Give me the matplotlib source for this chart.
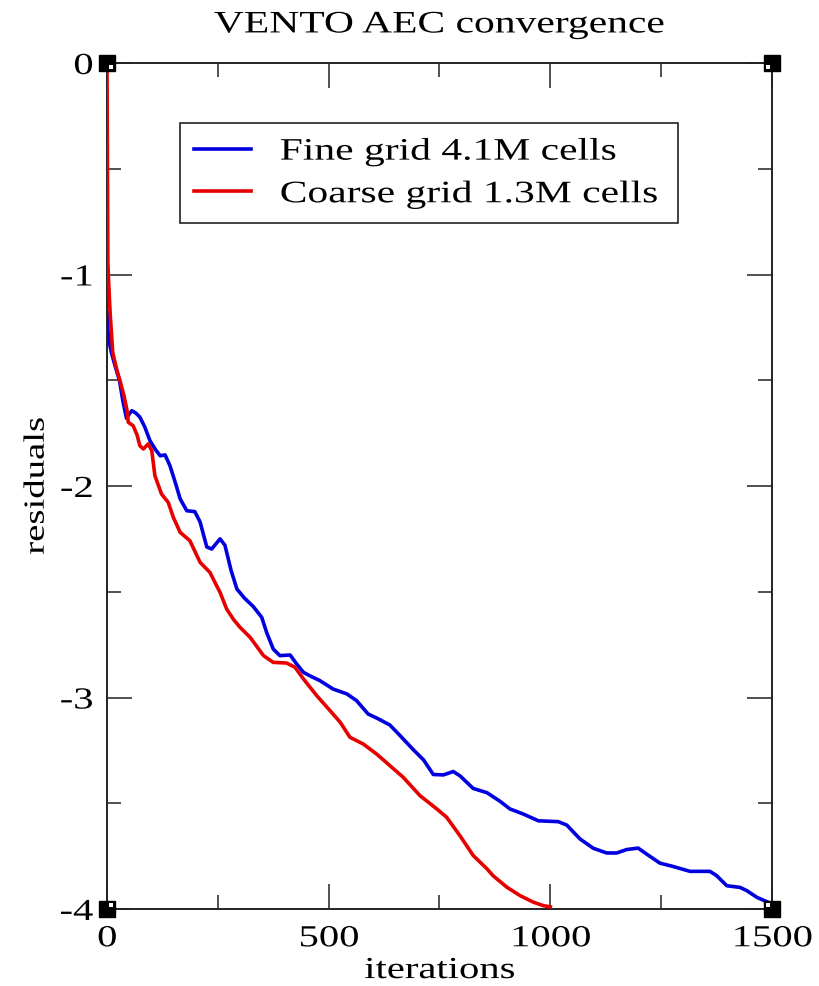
"""Redraw the VENTO AEC residual convergence plot (xmgrace look)."""

from __future__ import annotations

import matplotlib

matplotlib.use("Agg")
import matplotlib.pyplot as plt
from matplotlib import patheffects
from matplotlib.ticker import MultipleLocator
from matplotlib.transforms import Affine2D, offset_copy

TITLE = "VENTO AEC convergence"
X_LABEL = "iterations"
Y_LABEL = "residuals"

FINE_LABEL = "Fine grid 4.1M cells"
FINE_ITER = [0, 2, 5, 10, 18, 28, 36, 44, 50, 56, 65, 74, 85, 97, 110, 120,
             131, 142, 155, 165, 180, 198, 210, 225, 236, 255, 266, 280, 293,
             310, 330, 349, 360, 375, 390, 413, 428, 443, 460, 480, 510, 541,
             563, 589, 612, 638, 661, 691, 714, 736, 759, 781, 796, 826, 857,
             886, 909, 939, 973, 1018, 1037, 1067, 1097, 1127, 1150, 1172,
             1198, 1217, 1247, 1277, 1315, 1360, 1375, 1398, 1428, 1443, 1466,
             1492, 1500]
FINE_RES = [-1.18, -1.26, -1.32, -1.37, -1.43, -1.50, -1.60, -1.68, -1.66,
            -1.644, -1.655, -1.674, -1.72, -1.786, -1.83, -1.857, -1.853,
            -1.904, -1.99, -2.061, -2.117, -2.121, -2.17, -2.288, -2.298,
            -2.25, -2.28, -2.40, -2.487, -2.53, -2.57, -2.621, -2.692, -2.771,
            -2.802, -2.799, -2.842, -2.881, -2.90, -2.92, -2.96, -2.983,
            -3.015, -3.078, -3.101, -3.13, -3.18, -3.247, -3.295, -3.364,
            -3.366, -3.35, -3.37, -3.43, -3.45, -3.49, -3.527, -3.551, -3.583,
            -3.587, -3.603, -3.669, -3.713, -3.735, -3.735, -3.719, -3.712,
            -3.740, -3.783, -3.799, -3.822, -3.822, -3.842, -3.890, -3.898,
            -3.913, -3.945, -3.969, -3.985]

COARSE_LABEL = "Coarse grid 1.3M cells"
COARSE_ITER = [0, 1, 2, 4, 7, 13, 22, 29, 38, 45, 48, 59, 68, 74, 82, 93, 101,
               108, 123, 138, 150, 165, 187, 210, 232, 255, 270, 285, 300, 323,
               353, 375, 405, 424, 443, 473, 503, 526, 548, 578, 608, 638, 668,
               706, 744, 766, 796, 826, 857, 871, 902, 932, 962, 984, 1000]
COARSE_RES = [0.0, -0.5, -0.95, -1.05, -1.18, -1.37, -1.45, -1.50, -1.57,
              -1.64, -1.699, -1.715, -1.76, -1.809, -1.825, -1.801, -1.833,
              -1.951, -2.038, -2.077, -2.15, -2.219, -2.259, -2.361, -2.408,
              -2.503, -2.582, -2.63, -2.668, -2.716, -2.802, -2.834, -2.837,
              -2.857, -2.912, -2.991, -3.062, -3.117, -3.188, -3.220, -3.267,
              -3.322, -3.377, -3.464, -3.527, -3.566, -3.653, -3.747, -3.810,
              -3.843, -3.897, -3.937, -3.968, -3.984, -3.99]

X_RANGE = (0, 1500)
Y_RANGE = (-4, 0)

# the original's Times glyphs come out noticeably wider than Liberation Serif
TEXT_STRETCH = 1.33


class _Stretch(patheffects.AbstractPathEffect):
    """Widen glyphs along the text direction, pinned at one end or the middle."""

    def __init__(self, sx, anchor="center"):
        super().__init__()
        self._sx = sx
        self._anchor = anchor

    def draw_path(self, renderer, gc, tpath, affine, rgbFace=None):
        xs = tpath.vertices[:, 0]
        x0 = 0.0
        if len(xs) and self._anchor == "center":
            x0 = 0.5 * (xs.min() + xs.max())
        elif len(xs) and self._anchor == "right":
            x0 = xs.max()
        pre = Affine2D().translate(-x0, 0).scale(self._sx, 1).translate(x0, 0)
        renderer.draw_path(gc, tpath, pre + affine, rgbFace)


def _stretch(text, anchor="center"):
    text.set_path_effects([_Stretch(TEXT_STRETCH, anchor)])


def _corner_boxes(fig, ax):
    # grace leaves little black squares on the frame corners
    for x in X_RANGE:
        for y in Y_RANGE:
            ax.plot([x], [y], marker="s", markersize=11, color="black",
                    clip_on=False, zorder=6)
            dx = 3 if x == X_RANGE[0] else -3
            dy = -3 if y == Y_RANGE[1] else 3
            tr = offset_copy(ax.transData, fig=fig, x=dx, y=dy, units="points")
            ax.plot([x], [y], marker="s", markersize=3.5, color="white",
                    markeredgewidth=0, clip_on=False, zorder=7, transform=tr)


def main():
    plt.rcParams["font.family"] = ["Liberation Serif", "DejaVu Serif"]
    plt.rcParams["axes.unicode_minus"] = False

    fig = plt.figure(figsize=(8.2, 9.87), dpi=100)
    ax = fig.add_axes([107 / 820, 1 - 910 / 987, 665 / 820, 846 / 987])

    ax.plot(FINE_ITER, FINE_RES, color="#0000e0", linewidth=2.6,
            label=FINE_LABEL, zorder=3)
    ax.plot(COARSE_ITER, COARSE_RES, color="#e60000", linewidth=2.6,
            label=COARSE_LABEL, zorder=4)

    ax.set_xlim(*X_RANGE)
    ax.set_ylim(*Y_RANGE)
    ax.xaxis.set_major_locator(MultipleLocator(500))
    ax.xaxis.set_minor_locator(MultipleLocator(250))
    ax.yaxis.set_major_locator(MultipleLocator(1))
    ax.yaxis.set_minor_locator(MultipleLocator(0.5))
    ax.tick_params(which="both", direction="in", top=True, right=True,
                   colors="#222222", labelcolor="black", labelsize=22)
    ax.tick_params(which="major", length=18, width=1.1)
    ax.tick_params(axis="x", which="major", pad=11)
    ax.tick_params(axis="y", which="major", pad=10)
    ax.tick_params(which="minor", length=10, width=1.1)
    for spine in ax.spines.values():
        spine.set_linewidth(1.4)
        spine.set_color("#222222")

    for tick in ax.xaxis.get_major_ticks():
        _stretch(tick.label1, "center")
    for tick in ax.yaxis.get_major_ticks():
        _stretch(tick.label1, "right")

    _stretch(ax.set_title(TITLE, fontsize=22.5, pad=22))
    _stretch(ax.set_xlabel(X_LABEL, fontsize=22, labelpad=2))
    _stretch(ax.set_ylabel(Y_LABEL, fontsize=21, labelpad=13))

    leg = ax.legend(loc="upper left", bbox_to_anchor=(0.1098, 0.0, 0.749, 0.929),
                    mode="expand", fontsize=22.5, frameon=True, fancybox=False,
                    framealpha=1, edgecolor="#222222", handlelength=1.82,
                    handletextpad=0.92, borderpad=0.45, labelspacing=0.42,
                    borderaxespad=0)
    leg.get_frame().set_linewidth(1.2)
    for text in leg.get_texts():
        _stretch(text, "left")

    _corner_boxes(fig, ax)

    fig.savefig("out.png", dpi=100)
    plt.close(fig)


if __name__ == "__main__":
    main()
